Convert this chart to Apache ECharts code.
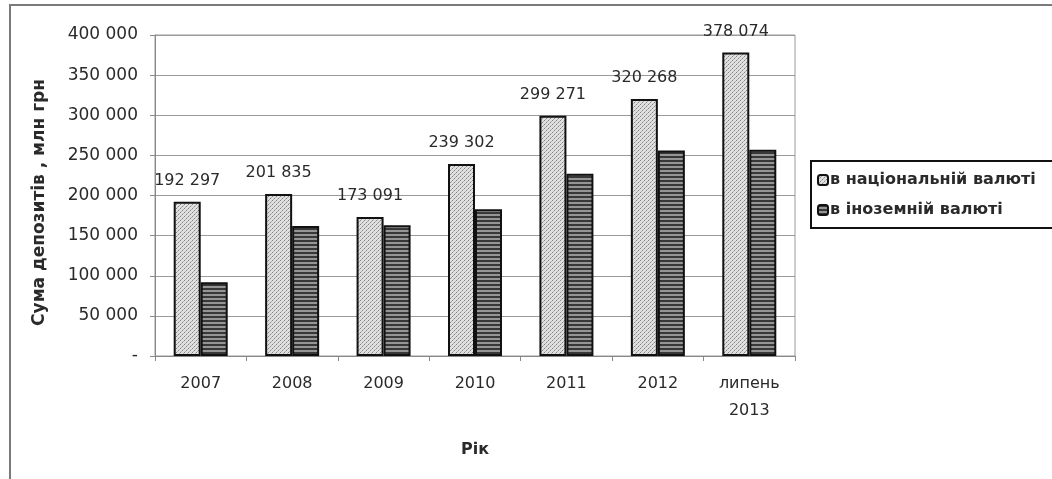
<!DOCTYPE html>
<html>
<head>
<meta charset="utf-8">
<script src="https://cdn.jsdelivr.net/npm/echarts@6/dist/echarts.min.js"></script>
<style>
html,body{margin:0;padding:0;background:#fff;}
#c{width:1052px;height:479px;}
</style>
</head>
<body>
<div id="c"></div>
<script>
const categories = ['2007', '2008', '2009', '2010', '2011', '2012', 'липень\n2013'];
const nationalValues = [192297, 201835, 173091, 239302, 299271, 320268, 378074];
const foreignValues = [92000, 162000, 163000, 183000, 227000, 256000, 257000];
const seriesNames = ['в національній валюті', 'в іноземній валюті'];
const yTicks = [0, 50000, 100000, 150000, 200000, 250000, 300000, 350000, 400000];
const yAxisTitle = 'Сума депозитів , млн грн';
const xAxisTitle = 'Рік';

function dotPattern() {
  const c = document.createElement('canvas');
  c.width = 4; c.height = 4;
  const g = c.getContext('2d');
  g.fillStyle = '#e0e0e0'; g.fillRect(0, 0, 4, 4);
  g.fillStyle = '#858585';
  g.fillRect(0, 0, 1, 1); g.fillRect(2, 2, 1, 1);
  g.fillStyle = '#b0b0b0';
  g.fillRect(1, 3, 1, 1); g.fillRect(3, 1, 1, 1);
  return c;
}
function stripePattern() {
  const c = document.createElement('canvas');
  c.width = 4; c.height = 4;
  const g = c.getContext('2d');
  g.fillStyle = '#959595'; g.fillRect(0, 0, 4, 4);
  g.fillStyle = '#383838'; g.fillRect(0, 0, 4, 2);
  return c;
}

function fmt(v) {
  if (v === 0) return '-';
  return String(v).replace(/\B(?=(\d{3})+(?!\d))/g, ' ');
}

const chart = echarts.init(document.getElementById('c'));
const txt = '#2a2a2a';
const ff = 'DejaVu Sans, Verdana, sans-serif';
chart.setOption({
  animation: false,
  backgroundColor: '#fff',
  textStyle: { fontFamily: ff },
  graphic: [{
    type: 'rect',
    shape: { x: 10, y: 5, width: 1200, height: 1000 },
    style: { fill: 'none', stroke: '#7a7a7a', lineWidth: 2 },
    silent: true
  }],
  grid: {
    left: 155, right: 257, top: 35, bottom: 123,
    show: true, borderColor: '#9a9a9a', borderWidth: 1, backgroundColor: '#fff'
  },
  legend: {
    orient: 'vertical',
    left: 811, top: 161,
    padding: [11, 40, 10, 6],
    itemGap: 14,
    itemWidth: 10, itemHeight: 10,
    borderColor: '#111', borderWidth: 2,
    textStyle: { fontSize: 16, fontWeight: 'bold', color: txt, fontFamily: ff, padding: [0, 0, 0, -3] },
    data: seriesNames
  },
  xAxis: {
    type: 'category',
    data: categories,
    name: xAxisTitle,
    nameLocation: 'middle',
    nameGap: 86,
    nameTextStyle: { fontSize: 16, fontWeight: 'bold', color: txt, fontFamily: ff },
    axisLine: { lineStyle: { color: '#888', width: 1 } },
    axisTick: { show: true, length: 5, lineStyle: { color: '#888' } },
    axisLabel: { fontSize: 16, color: txt, margin: 14, lineHeight: 27, fontFamily: ff }
  },
  yAxis: {
    type: 'value',
    min: 0, max: 400000, interval: 50000,
    name: yAxisTitle,
    nameLocation: 'middle',
    nameGap: 107,
    nameRotate: 90,
    nameTextStyle: { fontSize: 17, fontWeight: 'bold', color: txt, fontFamily: ff, padding: [0, 14, 0, 0] },
    axisLine: { show: true, lineStyle: { color: '#888', width: 1 } },
    axisTick: { show: true, length: 5, lineStyle: { color: '#888' } },
    splitLine: { lineStyle: { color: '#9a9a9a', width: 1 } },
    axisLabel: { fontSize: 17, color: txt, margin: 17, fontFamily: ff, formatter: v => yTicks.includes(v) ? fmt(v) : '' }
  },
  series: [{
    name: seriesNames[0],
    type: 'bar',
    data: nationalValues,
    barWidth: 27,
    barGap: '0%',
    itemStyle: { color: { image: dotPattern(), repeat: 'repeat' }, borderColor: '#111', borderWidth: 2 },
    label: {
      show: true, position: 'top', distance: 13,
      fontSize: 16, color: txt, fontFamily: ff,
      formatter: p => fmt(p.value)
    }
  }, {
    name: seriesNames[1],
    type: 'bar',
    data: foreignValues,
    barWidth: 27,
    itemStyle: { color: { image: stripePattern(), repeat: 'repeat' }, borderColor: '#111', borderWidth: 2 }
  }]
});
</script>
</body>
</html>
